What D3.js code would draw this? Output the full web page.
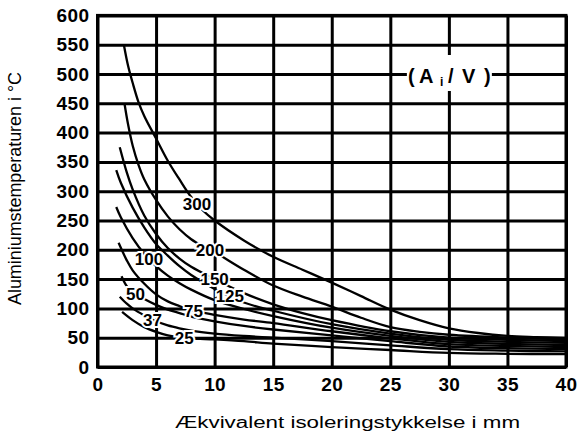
<!DOCTYPE html>
<html><head><meta charset="utf-8">
<script src="https://cdn.jsdelivr.net/npm/d3@7"></script>
<style>
html,body{margin:0;padding:0;background:#fff;}
svg{display:block;font-family:"Liberation Sans",Arial,sans-serif;}
</style></head>
<body><svg id="c" width="582" height="434"></svg>
<script>
// ---- data ----
const xTicks = [0,5,10,15,20,25,30,35,40];
const yTicks = [0,50,100,150,200,250,300,350,400,450,500,550,600];
const seriesNames = ["300","200","150","125","100","75","50","37","25"];
const s300 = [[2.25,550],[2.6,515],[3,485],[3.5,452],[4,428],[5,390],[6,352],[7,320],[8,290],[9,267],[10,250],[12.5,216],[15,188],[17.5,166],[20,144],[22.5,121],[25,98],[27.5,80],[30,66],[32.5,58],[35,53],[37.5,51],[40,49.5]];
const s200 = [[2.3,450],[2.6,415],[3,378],[3.5,345],[4,320],[5,285],[6,257],[7,235],[8,218],[9,206],[10,196],[12.5,166],[15,139],[17.5,120],[20,103],[22.5,84],[25,68],[27.5,60],[30,55],[35,50],[40,47]];
const s150 = [[1.9,375],[2.5,332],[3,303],[4,258],[5,227],[6,203],[7,185],[8,171],[10,150],[12.5,126],[15,107],[17.5,92],[20,80],[25,61],[30,50],[35,46.5],[40,44]];
const s125 = [[1.6,336],[2,314],[3,272],[4,238],[5,210],[6,190],[7,172],[8,157],[10,133],[12.5,110],[15,96],[20,73],[25,57],[30,46.5],[35,43],[40,41]];
const s100 = [[1.6,273],[2,255],[3,220],[4,193],[5,172],[6,156],[7,143],[8,132],[10,114],[12.5,99],[15,87],[20,67],[25,53],[30,43],[35,39.5],[40,37.5]];
const s75  = [[1.8,212],[2.5,182],[3,165],[4,142],[5,124],[6,112],[7,104],[8,97],[10,89],[12.5,81],[15,75],[20,61],[25,49],[30,39],[35,36],[40,34]];
const s50  = [[2.05,155],[2.5,138],[3,128],[4,116],[5,106],[6,98],[7,92],[8,86],[10,78],[12.5,70],[15,64],[20,54],[25,44],[30,35],[35,32],[40,30.5]];
const s37  = [[1.9,120],[2.5,108],[3,100],[4,88],[5,78],[6,71],[7,66],[8,62],[10,57],[12.5,53],[15,50],[20,44],[25,37],[30,30.5],[35,28],[40,26.5]];
const s25  = [[2.1,94],[3,80],[4,68],[5,60],[6,54],[7,51],[8,49],[10,47],[12.5,44],[15,40],[20,34],[25,29],[30,24],[35,22.5],[40,22]];
const seriesValues = [s300,s200,s150,s125,s100,s75,s50,s37,s25];
const labelAtX = [8.5,9.6,10,11.3,4.4,8.2,3.25,4.7,7.4];
const xTitle = "Ækvivalent isoleringstykkelse i mm";
const yTitle = "Aluminiumstemperaturen i °C";

// ---- drawing ----
const svg = d3.select("#c");
const x = d3.scaleLinear().domain([0,40]).range([97.5,566]);
const y = d3.scaleLinear().domain([0,600]).range([367,15.4]);
const pw = x(40)-x(0), ph = y(0)-y(600);

const gx = svg.append("g").attr("transform",`translate(0,${y(0)})`)
  .call(d3.axisBottom(x).tickValues(xTicks).tickSize(-ph).tickPadding(11).tickFormat(d3.format("d")));
const gy = svg.append("g").attr("transform",`translate(${x(0)},0)`)
  .call(d3.axisLeft(y).tickValues(yTicks).tickSize(-pw).tickPadding(8).tickFormat(d3.format("d")));
[gx,gy].forEach(g=>{
  g.select(".domain").remove();
  g.selectAll(".tick line").attr("stroke","#000").attr("stroke-width",3);
  g.selectAll(".tick text").attr("fill","#000").attr("font-size",19).attr("font-weight","bold")
    .attr("font-family","'Liberation Sans',Arial,sans-serif").attr("letter-spacing",0.4);
});
svg.append("rect").attr("x",x(0)).attr("y",y(600)).attr("width",pw).attr("height",ph)
  .attr("fill","none").attr("stroke","#000").attr("stroke-width",3);

// (A_i / V) box
const bx = x(30), by = y(500);
svg.append("rect").attr("x",bx-42).attr("y",by-19).attr("width",85).attr("height",36).attr("fill","#fff");
const t = svg.append("text").attr("y",by+9).attr("font-size",20).attr("font-weight","bold").attr("fill","#000");
t.append("tspan").attr("x",bx-41).text("(");
t.append("tspan").attr("x",bx-30).text("A");
t.append("tspan").attr("x",bx-9).attr("dy",3).attr("font-size",12).text("i");
t.append("tspan").attr("x",bx-1).attr("dy",-3).text("/");
t.append("tspan").attr("x",bx+13).text("V");
t.append("tspan").attr("x",bx+35).text(")");

// curves
const line = d3.line().x(d=>x(d[0])).y(d=>y(d[1])).curve(d3.curveCatmullRom.alpha(0.5));
svg.append("g").selectAll("path").data(seriesValues).join("path")
  .attr("d",line).attr("fill","none").attr("stroke","#000").attr("stroke-width",2.3);

// curve labels
function interp(arr,xv){
  for(let i=1;i<arr.length;i++){
    if(arr[i][0]>=xv){const a=arr[i-1],b=arr[i];return a[1]+(b[1]-a[1])*(xv-a[0])/(b[0]-a[0]);}
  }
  return arr[arr.length-1][1];
}
svg.append("g").selectAll("text").data(seriesNames).join("text")
  .attr("x",(d,i)=>x(labelAtX[i]))
  .attr("y",(d,i)=>y(interp(seriesValues[i],labelAtX[i]))+6)
  .attr("text-anchor","middle").attr("font-size",17).attr("font-weight","bold")
  .attr("fill","#000").attr("stroke","#fff").attr("stroke-width",4).attr("paint-order","stroke")
  .text(d=>d);

// titles
svg.append("text").attr("x",175).attr("y",428).attr("font-size",16)
  .attr("textLength",345).attr("lengthAdjust","spacingAndGlyphs").attr("fill","#000").text(xTitle);
svg.append("text").attr("transform","translate(21,305) rotate(-90)").attr("font-size",19)
  .attr("textLength",233).attr("lengthAdjust","spacingAndGlyphs").attr("fill","#000").text(yTitle);
</script></body></html>
